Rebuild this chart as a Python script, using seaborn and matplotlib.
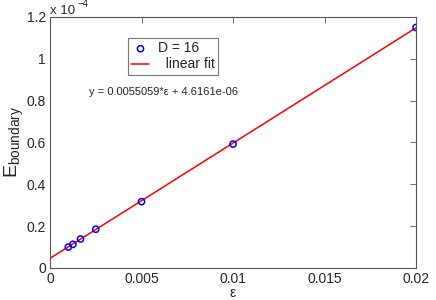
import matplotlib
matplotlib.use('Agg')
import matplotlib.pyplot as plt
import numpy as np
import pandas as pd
import seaborn as sns
from matplotlib.ticker import FuncFormatter, MultipleLocator

# data
epsilon = [0.001, 0.00125, 0.001667, 0.0025, 0.005, 0.01, 0.02]
e_boundary = [1.00e-5, 1.13e-5, 1.385e-5, 1.85e-5, 3.17e-5, 5.92e-5, 1.149e-4]
slope = 0.0055059
intercept = 4.6161e-06
fit_range = [0.0, 0.02]

sns.set_style('white')
plt.rcParams['font.family'] = ['Liberation Sans', 'DejaVu Sans']

pts = pd.DataFrame({'eps': epsilon, 'E': e_boundary})
fit = pd.DataFrame({'eps': fit_range})
fit['E'] = slope * fit['eps'] + intercept

fig = plt.figure(figsize=(4.36, 3.0), dpi=100)
ax = fig.add_axes([0.1147, 0.1067, 0.8395, 0.8373])

sns.scatterplot(data=pts, x='eps', y='E', ax=ax, marker='o', s=20,
                facecolor='none', edgecolor='blue', linewidth=1.1,
                label='D = 16', zorder=3)
sns.lineplot(data=fit, x='eps', y='E', ax=ax, color='red', linewidth=1.1,
             label='  linear fit', zorder=2)

ax.set_xlim(0, 0.02)
ax.set_ylim(0, 1.2e-4)
ax.xaxis.set_major_locator(MultipleLocator(0.005))
ax.yaxis.set_major_locator(MultipleLocator(0.2e-4))
ax.xaxis.set_major_formatter(FuncFormatter(lambda v, p: '%g' % round(v, 6)))
ax.yaxis.set_major_formatter(FuncFormatter(lambda v, p: '%g' % round(v / 1e-4, 4)))
ax.tick_params(direction='in', length=4, width=0.6, color='#555555',
               labelsize=10, top=True, right=True, pad=3)
for s in ax.spines.values():
    s.set_color('#555555')
    s.set_linewidth(0.8)

# multiplier above the y axis
ax.text(0.0, 1.0, 'x 10', transform=ax.transAxes, fontsize=9.5,
        ha='left', va='bottom')
ax.text(0.074, 1.03, '\u22124', transform=ax.transAxes, fontsize=7,
        ha='left', va='bottom')
ax.set_xlabel('ε', fontsize=10, labelpad=0)
ax.set_ylabel('E$_{\\mathregular{boundary}}$', fontsize=14, labelpad=0)

ax.text(0.0062, 0.84e-4, 'y = 0.0055059*ε + 4.6161e-06', fontsize=8,
        ha='center', va='center')

leg = ax.legend(loc='upper left', bbox_to_anchor=(0.213, 0.916), fontsize=10,
                frameon=True, fancybox=False, handlelength=1.3,
                borderpad=0.25, labelspacing=0.15, handletextpad=0.6,
                borderaxespad=0)
leg.get_frame().set_edgecolor('#555555')
leg.get_frame().set_linewidth(0.8)

fig.savefig('out.png', dpi=100)
